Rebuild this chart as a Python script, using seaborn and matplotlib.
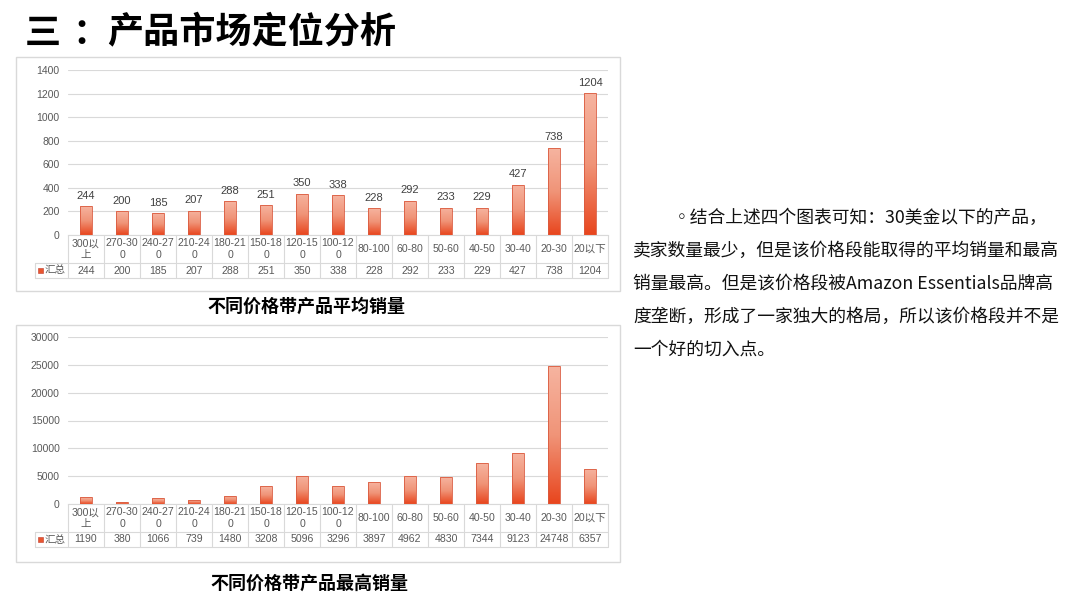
import numpy as np
import pandas as pd
import matplotlib
matplotlib.use("Agg")
import matplotlib.pyplot as plt
import seaborn as sns
from matplotlib.colors import LinearSegmentedColormap
from matplotlib.patches import Rectangle
from matplotlib.lines import Line2D
from matplotlib.transforms import blended_transform_factory

# data
price_bands = ["300以上", "270-300", "240-270", "210-240", "180-210", "150-180", "120-150",
               "100-120", "80-100", "60-80", "50-60", "40-50", "30-40", "20-30", "20以下"]
band_labels = ["300以\n上", "270-30\n0", "240-27\n0", "210-24\n0", "180-21\n0", "150-18\n0",
               "120-15\n0", "100-12\n0", "80-100", "60-80", "50-60", "40-50", "30-40",
               "20-30", "20以下"]
avg_sales = [244, 200, 185, 207, 288, 251, 350, 338, 228, 292, 233, 229, 427, 738, 1204]
max_sales = [1190, 380, 1066, 739, 1480, 3208, 5096, 3296, 3897, 4962, 4830, 7344, 9123, 24748, 6357]

title_parts = ["三", "：", "产品市场定位分析"]
caption_avg = "不同价格带产品平均销量"
caption_max = "不同价格带产品最高销量"
series_name = "汇总"
paragraph = ["◦结合上述四个图表可知：30美金以下的产品，",
             "卖家数量最少，但是该价格段能取得的平均销量和最高",
             "销量最高。但是该价格段被Amazon Essentials品牌高",
             "度垄断，形成了一家独大的格局，所以该价格段并不是",
             "一个好的切入点。"]

sns.set_theme(style="white")
plt.rcParams['font.family'] = ['Liberation Sans', 'Noto Sans CJK SC', 'DejaVu Sans']
CJK = ['Noto Sans CJK SC', 'DejaVu Sans']

W, H = 1080, 608
fig = plt.figure(figsize=(10.8, 6.08), dpi=100)


def fx(px):
    return px / W


def fy(py):
    return 1 - py / H


grad_cmap = LinearSegmentedColormap.from_list("bar", ["#E8451D", "#F09478", "#F6B4A0"])


def gradient_bars(ax):
    for bar in list(ax.patches):
        x0, y0 = bar.get_x(), bar.get_y()
        w, h = bar.get_width(), bar.get_height()
        grad = np.linspace(0, 1, 256).reshape(-1, 1)
        im = ax.imshow(grad, cmap=grad_cmap, aspect="auto", origin="lower",
                       extent=[x0, x0 + w, y0, y0 + h], zorder=2)
        im.set_clip_path(bar)
        bar.set_facecolor("none")
        bar.set_edgecolor("#DA5A3E")
        bar.set_linewidth(0.6)
        bar.set_zorder(3)


def make_chart(box, axis_px, top_px, row_div, row_bot, values, ymax, ystep, show_labels):
    # outer chart frame, kept behind the axes
    fig.patches.append(Rectangle((fx(box[0]), fy(box[3])), fx(box[2] - box[0]),
                                 (box[3] - box[1]) / H, transform=fig.transFigure,
                                 facecolor="white", edgecolor="#D9D9D9", lw=1, zorder=-5))
    ax = fig.add_axes([fx(68), fy(axis_px), fx(540), (axis_px - top_px) / H])
    df = pd.DataFrame({"band": price_bands, "value": values})
    sns.barplot(data=df, x="band", y="value", ax=ax, width=0.33, color="#E8562F",
                saturation=1, errorbar=None)
    if show_labels:
        ax.bar_label(ax.containers[0], fontsize=8, color="#404040", padding=4)
    gradient_bars(ax)
    ax.set_xlim(-0.5, len(values) - 0.5)
    ax.set_ylim(0, ymax)
    ax.set_yticks(range(0, ymax + 1, ystep))
    ax.tick_params(axis="y", length=0, labelsize=7.5, labelcolor="#595959", pad=6)
    ax.tick_params(axis="x", length=0, labelbottom=False)
    ax.set_xlabel("")
    ax.set_ylabel("")
    ax.yaxis.grid(True, color="#D9D9D9", lw=0.8)
    ax.set_axisbelow(True)
    for s in ["top", "right", "left"]:
        ax.spines[s].set_visible(False)
    ax.spines["bottom"].set_color("#D9D9D9")
    ax.spines["bottom"].set_linewidth(0.8)
    ax.patch.set_alpha(0)

    # data table under the axis
    tr = blended_transform_factory(ax.transData, fig.transFigure)
    n = len(values)
    lc = "#D9D9D9"
    for i in range(n + 1):
        fig.add_artist(Line2D([i - 0.5, i - 0.5], [fy(axis_px), fy(row_bot)], transform=tr,
                              color=lc, lw=0.8, clip_on=False))
    for yy in (row_div, row_bot):
        fig.add_artist(Line2D([fx(35), fx(608)], [fy(yy), fy(yy)], transform=fig.transFigure,
                              color=lc, lw=0.8))
    fig.add_artist(Line2D([fx(35), fx(35)], [fy(row_div), fy(row_bot)],
                          transform=fig.transFigure, color=lc, lw=0.8))
    mid1 = (axis_px + row_div) / 2
    mid2 = (row_div + row_bot) / 2
    for i, (lab, v) in enumerate(zip(band_labels, values)):
        fig.text(i, fy(mid1), lab, transform=tr, ha="center", va="center", fontsize=7.6,
                 color="#595959", linespacing=1.2)
        fig.text(i, fy(mid2), str(v), transform=tr, ha="center", va="center", fontsize=7.6,
                 color="#595959")
    fig.patches.append(Rectangle((fx(38), fy(mid2) - 2.5 / H), fx(5), 5 / H,
                                 transform=fig.transFigure, facecolor="#E8562F",
                                 edgecolor="#C0392B", lw=0.4, zorder=3))
    fig.text(fx(45), fy(mid2), series_name, ha="left", va="center", fontsize=7.6,
             color="#595959", family=CJK)
    return ax


make_chart((16, 57, 620, 291), 235, 70, 263, 278, avg_sales, 1400, 200, True)
make_chart((16, 325, 620, 562), 504, 337, 532, 547, max_sales, 30000, 5000, False)

# title, with the colon centred in its cell like the original
for part, x0 in zip(title_parts, [25, 72, 107]):
    fig.text(fx(x0), fy(33), part, ha="left", va="center", fontsize=26, fontweight="bold",
             family=CJK, color="#000000")
fig.text(fx(306), fy(306), caption_avg, ha="center", va="center", fontsize=13,
         fontweight="bold", family=CJK, color="#000000")
fig.text(fx(309), fy(583), caption_max, ha="center", va="center", fontsize=13,
         fontweight="bold", family=CJK, color="#000000")

line_y = [218, 251, 284, 317, 350]
for k, (line, yy) in enumerate(zip(paragraph, line_y)):
    x0 = 673 if k == 0 else 633
    fig.text(fx(x0), fy(yy), line, ha="left", va="center", fontsize=12.8,
             family=CJK, color="#111111")

fig.savefig("out.png", dpi=100)
